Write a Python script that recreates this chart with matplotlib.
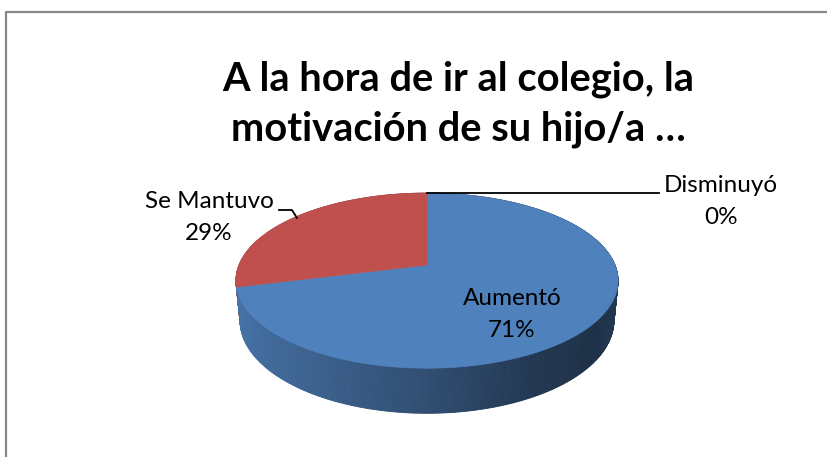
import numpy as np
import matplotlib
matplotlib.use('Agg')
import matplotlib.pyplot as plt
from matplotlib.patches import Polygon

# data
labels = ['Aumentó', 'Se Mantuvo', 'Disminuyó']
values = [71, 29, 0]
pct_text = ['71%', '29%', '0%']
colors = ['#4F81BD', '#C0504D', '#9BBB59']
title = 'A la hora de ir al colegio, la\nmotivación de su hijo/a …'

plt.rcParams['font.family'] = ['Lato', 'DejaVu Sans']

W, H = 827, 457
fig = plt.figure(figsize=(8.27, 4.57), dpi=100)
ax = fig.add_axes([0, 0, 1, 1])
ax.set_xlim(0, W)
ax.set_ylim(H, 0)
ax.axis('off')

# 3d pie geometry (perspective view)
cx, cy, R = 427, 265, 188
phi = np.radians(26.8)
k = 0.2
h = 0.24

def proj(X, Y, Z):
    depth = Y*np.cos(phi) - Z*np.sin(phi)
    d = 1 + k*depth
    u = X/d
    v = (Y*np.sin(phi) + Z*np.cos(phi))/d
    return cx + R*u, cy - R*v

def shade(col, X):
    f = np.interp(X, [-1, -0.5, 0, 0.5, 0.8, 1], [0.9, 0.75, 0.6, 0.42, 0.38, 0.45])
    c = np.array(matplotlib.colors.to_rgb(col))
    return tuple(np.clip(c*f, 0, 1))

fr = np.array(values, dtype=float) / sum(values)
ends = 90 - 360*np.cumsum(fr)
starts = ends + 360*fr

# side wall quads, back to front
quads = []
for i in range(len(values)):
    if fr[i] <= 0:
        continue
    n = max(int(abs(starts[i]-ends[i])*2), 2)
    th = np.radians(np.linspace(ends[i], starts[i], n+1))
    for j in range(n):
        a, b = th[j], th[j+1]
        m = (a+b)/2
        p = [proj(np.cos(a), np.sin(a), 0), proj(np.cos(b), np.sin(b), 0),
             proj(np.cos(b), np.sin(b), -h), proj(np.cos(a), np.sin(a), -h)]
        quads.append((np.sin(m), p, shade(colors[i], np.cos(m))))
quads.sort(key=lambda q: -q[0])
for _, p, c in quads:
    ax.add_patch(Polygon(p, closed=True, facecolor=c, edgecolor=c, lw=0.6))

# top face
for i in range(len(values)):
    if fr[i] <= 0:
        continue
    th = np.radians(np.linspace(ends[i], starts[i], 200))
    pts = [proj(0, 0, 0)] + [proj(np.cos(t), np.sin(t), 0) for t in th]
    ax.add_patch(Polygon(pts, closed=True, facecolor=colors[i], edgecolor=colors[i], lw=0.5))

# title, one line at a time on its baseline
for line, yb in zip(title.split('\n'), [90, 140]):
    ax.text(458, yb, line, ha='center', va='baseline', fontsize=28.7,
            fontweight='bold', color='black')

# data labels
fs = 17.5
label_pos = [(512, 305), (209, 208), (721, 192)]
for i, (lx, ly) in enumerate(label_pos):
    ax.text(lx, ly, labels[i], ha='center', va='baseline', fontsize=fs)
    ax.text(lx, ly + 32, pct_text[i], ha='center', va='baseline', fontsize=fs)

# leader lines
tx, ty = proj(0, 1, 0)
ax.plot([tx, 659], [ty, ty], color='black', lw=1.3)
ax.plot([279, 292, 297], [210, 210, 218], color='black', lw=1.3)

# chart frame
ax.plot([6, 6, W+5], [H+5, 12, 12], color='#878787', lw=1.6)

fig.savefig('out.png', dpi=100)
